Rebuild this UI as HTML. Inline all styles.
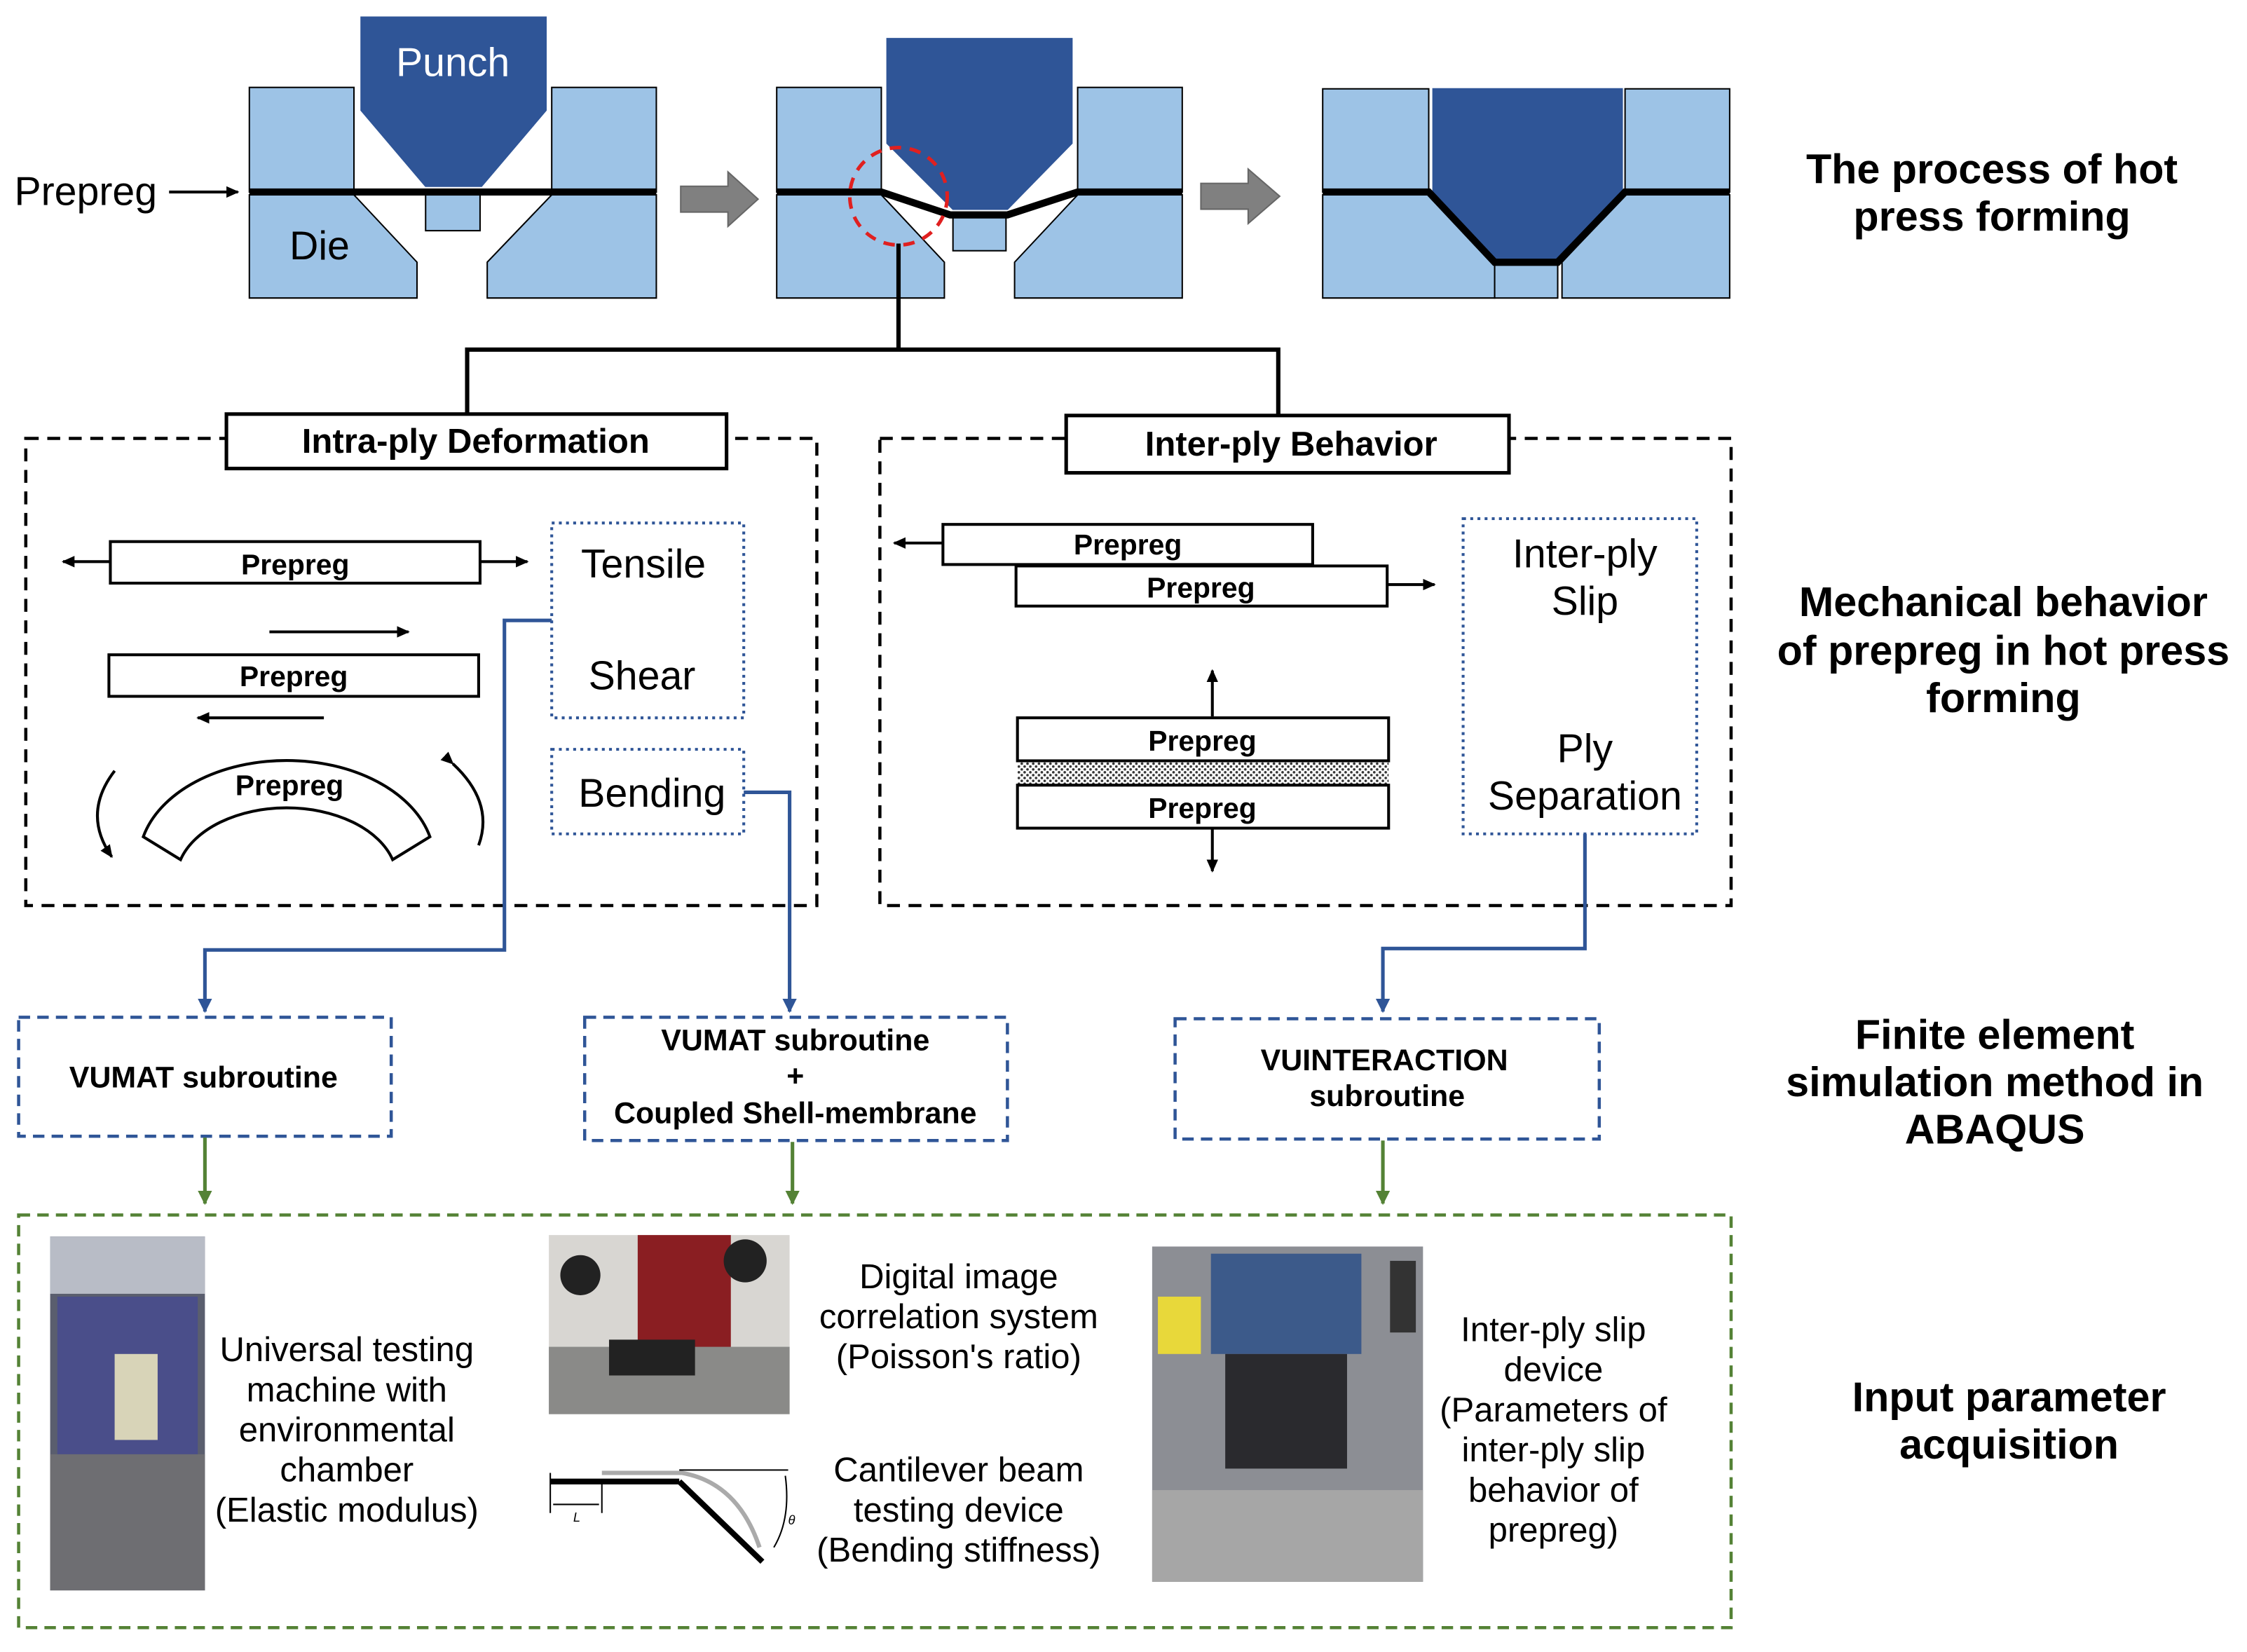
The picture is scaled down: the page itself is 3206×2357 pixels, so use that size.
<!DOCTYPE html>
<html><head><meta charset="utf-8"><style>
html,body{margin:0;padding:0;background:#fff}
svg{display:block}
text{font-family:"Liberation Sans",sans-serif}
.b{font-weight:bold}
</style></head><body>
<svg width="3206" height="2357" viewBox="0 0 1568 1153" preserveAspectRatio="none" xmlns="http://www.w3.org/2000/svg">
<defs>
<marker id="ak" markerWidth="10" markerHeight="10" refX="8" refY="5" orient="auto" markerUnits="userSpaceOnUse"><path d="M0,1 L9,5 L0,9 z" fill="#000"/></marker>
<marker id="ab" markerWidth="12" markerHeight="12" refX="9" refY="6" orient="auto" markerUnits="userSpaceOnUse"><path d="M0,1 L10,6 L0,11 z" fill="#2f5597"/></marker>
<marker id="ag" markerWidth="12" markerHeight="12" refX="9" refY="6" orient="auto" markerUnits="userSpaceOnUse"><path d="M0,1 L10,6 L0,11 z" fill="#548235"/></marker>
<pattern id="dots" width="4" height="4" patternUnits="userSpaceOnUse"><rect width="4" height="4" fill="#fff"/><circle cx="1" cy="1" r="0.9" fill="#333"/><circle cx="3" cy="3" r="0.9" fill="#333"/></pattern>
</defs>
<g stroke="#000" stroke-width="1">
<!-- set 1 -->
<rect x="174" y="61" width="73" height="73" fill="#9dc3e6"/>
<polygon points="174,136 247,136 291,183 291,208 174,208" fill="#9dc3e6"/>
<rect x="385" y="61" width="73" height="73" fill="#9dc3e6"/>
<polygon points="385,136 458,136 458,208 340,208 340,183" fill="#9dc3e6"/>
<polygon points="252,12 381,12 381,77 336,130 297,130 252,77" fill="#2f5597" stroke="#2f5597"/>
<rect x="297" y="136" width="38" height="25" fill="#9dc3e6"/>
<!-- set 2 -->
<rect x="542" y="61" width="73" height="73" fill="#9dc3e6"/>
<polygon points="542,136 615,136 659,183 659,208 542,208" fill="#9dc3e6"/>
<rect x="752" y="61" width="73" height="73" fill="#9dc3e6"/>
<polygon points="752,136 825,136 825,208 708,208 708,183" fill="#9dc3e6"/>
<polygon points="619,27 748,27 748,100 703,146 665,146 619,100" fill="#2f5597" stroke="#2f5597"/>
<rect x="665" y="150" width="37" height="25" fill="#9dc3e6"/>
<!-- set 3 -->
<rect x="923" y="62" width="74" height="72" fill="#9dc3e6"/>
<polygon points="923,136 997,136 1043,183 1043,208 923,208" fill="#9dc3e6"/>
<rect x="1134" y="62" width="73" height="72" fill="#9dc3e6"/>
<polygon points="1134,136 1207,136 1207,208 1090,208 1090,183" fill="#9dc3e6"/>
<polygon points="1000,62 1132,62 1132,134 1087,183 1043,183 1000,134" fill="#2f5597" stroke="#2f5597"/>
<rect x="1043" y="185" width="44" height="23" fill="#9dc3e6"/>
</g>
<line x1="174" y1="134" x2="458" y2="134" stroke="#000" stroke-width="5"/>
<polyline points="542,134 615,134 663,150 703,150 752,134 825,134" fill="none" stroke="#000" stroke-width="5"/>
<polyline points="923,134 997,134 1043,183 1087,183 1134,134 1207,134" fill="none" stroke="#000" stroke-width="5"/>
<circle cx="627" cy="137" r="34" fill="none" stroke="#e02020" stroke-width="2.5" stroke-dasharray="8,6"/>
<text x="316" y="53" font-size="28" fill="#fff" text-anchor="middle">Punch</text>
<text x="223" y="181" font-size="28" text-anchor="middle">Die</text>
<text x="10" y="143" font-size="28">Prepreg</text>
<line x1="118" y1="134" x2="166" y2="134" stroke="#000" stroke-width="2" marker-end="url(#ak)"/>
<polygon points="475,130 508,130 508,120 529,139 508,158 508,148 475,148" fill="#808080" stroke="#666"/>
<polygon points="838,128 871,128 871,118 893,137 871,156 871,146 838,146" fill="#808080" stroke="#666"/>
<!-- tree -->
<polyline points="627,170 627,244" fill="none" stroke="#000" stroke-width="3"/>
<polyline points="326,289 326,244 892,244 892,290" fill="none" stroke="#000" stroke-width="3"/>
<text x="1390" y="128" font-size="29" class="b" text-anchor="middle">The process of hot</text>
<text x="1390" y="161" font-size="29" class="b" text-anchor="middle">press forming</text>
<!-- mechanical boxes -->
<rect x="18" y="306" width="552" height="326" fill="none" stroke="#000" stroke-width="2.2" stroke-dasharray="9,6"/>
<rect x="614" y="306" width="594" height="326" fill="none" stroke="#000" stroke-width="2.2" stroke-dasharray="9,6"/>
<rect x="158" y="289" width="349" height="38" fill="#fff" stroke="#000" stroke-width="2.5"/>
<text x="332" y="316" font-size="24" class="b" text-anchor="middle">Intra-ply Deformation</text>
<rect x="744" y="290" width="309" height="40" fill="#fff" stroke="#000" stroke-width="2.5"/>
<text x="901" y="318" font-size="24" class="b" text-anchor="middle">Inter-ply Behavior</text>
<!-- left content -->
<g stroke="#000" stroke-width="2" fill="none">
<rect x="77" y="378" width="258" height="29"/>
<rect x="76" y="457" width="258" height="29"/>
<line x1="77" y1="392" x2="44" y2="392" marker-end="url(#ak)"/>
<line x1="335" y1="392" x2="368" y2="392" marker-end="url(#ak)"/>
<line x1="188" y1="441" x2="285" y2="441" marker-end="url(#ak)"/>
<line x1="226" y1="501" x2="138" y2="501" marker-end="url(#ak)"/>
<path d="M100,584 A103,70 0 0 1 300,584 L274,600 A77,50 0 0 0 126,600 Z" fill="#fff"/>
<path d="M80,538 Q57,568 78,598" marker-end="url(#ak)"/>
<path d="M316,533 Q345,560 334,590" marker-start="url(#ak)"/>
</g>
<text x="206" y="401" font-size="20" class="b" text-anchor="middle">Prepreg</text>
<text x="205" y="479" font-size="20" class="b" text-anchor="middle">Prepreg</text>
<text x="202" y="555" font-size="20" class="b" text-anchor="middle">Prepreg</text>
<rect x="385" y="365" width="134" height="136" fill="none" stroke="#2f5597" stroke-width="2" stroke-dasharray="2,3"/>
<rect x="385" y="523" width="134" height="59" fill="none" stroke="#2f5597" stroke-width="2" stroke-dasharray="2,3"/>
<text x="449" y="403" font-size="28" text-anchor="middle">Tensile</text>
<text x="448" y="481" font-size="28" text-anchor="middle">Shear</text>
<text x="455" y="563" font-size="28" text-anchor="middle">Bending</text>
<polyline points="385,433 352,433 352,663 143,663 143,706" fill="none" stroke="#2f5597" stroke-width="2.5" marker-end="url(#ab)"/>
<polyline points="519,553 551,553 551,706" fill="none" stroke="#2f5597" stroke-width="2.5" marker-end="url(#ab)"/>
<!-- right content -->
<g stroke="#000" stroke-width="2" fill="#fff">
<rect x="658" y="366" width="258" height="28"/>
<rect x="709" y="395" width="259" height="28"/>
<rect x="710" y="531" width="259" height="17" fill="url(#dots)" stroke="none"/>
<rect x="710" y="501" width="259" height="30"/>
<rect x="710" y="548" width="259" height="30"/>
</g>
<g stroke="#000" stroke-width="2" fill="none">
<line x1="658" y1="379" x2="624" y2="379" marker-end="url(#ak)"/>
<line x1="968" y1="408" x2="1001" y2="408" marker-end="url(#ak)"/>
<line x1="846" y1="500" x2="846" y2="468" marker-end="url(#ak)"/>
<line x1="846" y1="578" x2="846" y2="608" marker-end="url(#ak)"/>
</g>
<text x="787" y="387" font-size="20" class="b" text-anchor="middle">Prepreg</text>
<text x="838" y="417" font-size="20" class="b" text-anchor="middle">Prepreg</text>
<text x="839" y="524" font-size="20" class="b" text-anchor="middle">Prepreg</text>
<text x="839" y="571" font-size="20" class="b" text-anchor="middle">Prepreg</text>
<rect x="1021" y="362" width="163" height="220" fill="none" stroke="#2f5597" stroke-width="2" stroke-dasharray="2,3"/>
<text x="1106" y="396" font-size="28" text-anchor="middle">Inter-ply</text>
<text x="1106" y="429" font-size="28" text-anchor="middle">Slip</text>
<text x="1106" y="532" font-size="28" text-anchor="middle">Ply</text>
<text x="1106" y="565" font-size="28" text-anchor="middle">Separation</text>
<polyline points="1106,582 1106,662 965,662 965,706" fill="none" stroke="#2f5597" stroke-width="2.5" marker-end="url(#ab)"/>
<text x="1398" y="430" font-size="29" class="b" text-anchor="middle">Mechanical  behavior</text>
<text x="1398" y="464" font-size="29" class="b" text-anchor="middle">of prepreg in hot press</text>
<text x="1398" y="497" font-size="29" class="b" text-anchor="middle">forming</text>
<!-- FE boxes -->
<g fill="none" stroke="#2f5597" stroke-width="2.2" stroke-dasharray="8,5">
<rect x="13" y="710" width="260" height="83"/>
<rect x="408" y="710" width="295" height="86"/>
<rect x="820" y="711" width="296" height="84"/>
</g>
<text x="142" y="759" font-size="21" class="b" text-anchor="middle">VUMAT subroutine</text>
<text x="555" y="733" font-size="21" class="b" text-anchor="middle">VUMAT subroutine</text>
<text x="555" y="758" font-size="21" class="b" text-anchor="middle">+</text>
<text x="555" y="784" font-size="21" class="b" text-anchor="middle">Coupled Shell-membrane</text>
<text x="966" y="747" font-size="21" class="b" text-anchor="middle">VUINTERACTION</text>
<text x="968" y="772" font-size="21" class="b" text-anchor="middle">subroutine</text>
<g stroke="#548235" stroke-width="2.5" fill="none">
<line x1="143" y1="794" x2="143" y2="840" marker-end="url(#ag)"/>
<line x1="553" y1="797" x2="553" y2="840" marker-end="url(#ag)"/>
<line x1="965" y1="796" x2="965" y2="840" marker-end="url(#ag)"/>
</g>
<text x="1392" y="732" font-size="29" class="b" text-anchor="middle">Finite element</text>
<text x="1392" y="765" font-size="29" class="b" text-anchor="middle">simulation method in</text>
<text x="1392" y="798" font-size="29" class="b" text-anchor="middle">ABAQUS</text>
<!-- bottom -->
<rect x="13" y="848" width="1195" height="288" fill="none" stroke="#548235" stroke-width="2.2" stroke-dasharray="8,5"/>
<!-- photo 1 -->
<rect x="35" y="863" width="108" height="247" fill="#5a5e6e"/>
<rect x="35" y="863" width="108" height="40" fill="#b8bcc6"/>
<rect x="40" y="905" width="98" height="110" fill="#4a4e8a"/>
<rect x="80" y="945" width="30" height="60" fill="#d8d4b8"/>
<rect x="35" y="1015" width="108" height="95" fill="#6e6e72"/>
<!-- photo 2 -->
<rect x="383" y="862" width="168" height="125" fill="#d8d6d2"/>
<rect x="445" y="862" width="65" height="110" fill="#8a1e22"/>
<rect x="383" y="940" width="168" height="47" fill="#8a8a88"/>
<circle cx="405" cy="890" r="14" fill="#222"/>
<circle cx="520" cy="880" r="15" fill="#222"/>
<rect x="425" y="935" width="60" height="25" fill="#222"/>
<!-- photo 3 -->
<rect x="804" y="870" width="189" height="234" fill="#8c8e94"/>
<rect x="845" y="875" width="105" height="70" fill="#3c5a8a"/>
<rect x="855" y="945" width="85" height="80" fill="#2a2a2e"/>
<rect x="808" y="905" width="30" height="40" fill="#e8d83a"/>
<rect x="970" y="880" width="18" height="50" fill="#333"/>
<rect x="804" y="1040" width="189" height="64" fill="#a6a6a6"/>
<text x="242" y="950" font-size="24" text-anchor="middle">Universal testing</text>
<text x="242" y="978" font-size="24" text-anchor="middle">machine with</text>
<text x="242" y="1006" font-size="24" text-anchor="middle">environmental</text>
<text x="242" y="1034" font-size="24" text-anchor="middle">chamber</text>
<text x="242" y="1062" font-size="24" text-anchor="middle">(Elastic modulus)</text>
<text x="669" y="899" font-size="24" text-anchor="middle">Digital image</text>
<text x="669" y="927" font-size="24" text-anchor="middle">correlation system</text>
<text x="669" y="955" font-size="24" text-anchor="middle">(Poisson's ratio)</text>
<text x="669" y="1034" font-size="24" text-anchor="middle">Cantilever beam</text>
<text x="669" y="1062" font-size="24" text-anchor="middle">testing device</text>
<text x="669" y="1090" font-size="24" text-anchor="middle">(Bending stiffness)</text>
<text x="1084" y="936" font-size="24" text-anchor="middle">Inter-ply slip</text>
<text x="1084" y="964" font-size="24" text-anchor="middle">device</text>
<text x="1084" y="992" font-size="24" text-anchor="middle">(Parameters of</text>
<text x="1084" y="1020" font-size="24" text-anchor="middle">inter-ply slip</text>
<text x="1084" y="1048" font-size="24" text-anchor="middle">behavior of</text>
<text x="1084" y="1076" font-size="24" text-anchor="middle">prepreg)</text>
<!-- cantilever drawing -->
<line x1="384" y1="1034" x2="474" y2="1034" stroke="#000" stroke-width="4"/>
<line x1="474" y1="1034" x2="532" y2="1090" stroke="#000" stroke-width="4"/>
<path d="M420,1028 L476,1028 Q515,1035 530,1080" fill="none" stroke="#aaa" stroke-width="3"/>
<line x1="384" y1="1028" x2="384" y2="1056" stroke="#000" stroke-width="1"/>
<line x1="420" y1="1034" x2="420" y2="1056" stroke="#000" stroke-width="1"/>
<line x1="386" y1="1050" x2="418" y2="1050" stroke="#000" stroke-width="1"/>
<text x="400" y="1062" font-size="9" font-style="italic">L</text>
<line x1="474" y1="1026" x2="550" y2="1026" stroke="#000" stroke-width="1"/>
<path d="M548,1030 Q552,1060 540,1080" fill="none" stroke="#000" stroke-width="1"/>
<text x="550" y="1064" font-size="9" font-style="italic">θ</text>
<text x="1402" y="985" font-size="29" class="b" text-anchor="middle">Input parameter</text>
<text x="1402" y="1018" font-size="29" class="b" text-anchor="middle">acquisition</text>
</svg>
</body></html>
